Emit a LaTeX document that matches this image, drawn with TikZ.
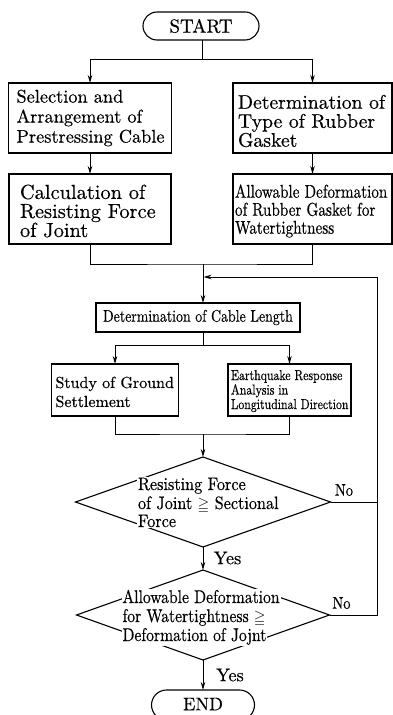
\documentclass[tikz,border=0pt]{standalone}
\usepackage{amssymb}
\usepackage{fontspec}
\usetikzlibrary{shapes.geometric,arrows.meta}
\setmainfont{lmroman10-regular.otf}[FakeBold=0.4]
\newfontfamily\cndA{lmroman10-regular.otf}[FakeStretch=0.82,FakeBold=0.4]
\newfontfamily\cndB{lmroman10-regular.otf}[FakeStretch=0.85,FakeBold=0.4]
\newfontfamily\cndC{lmroman10-regular.otf}[FakeStretch=0.9,FakeBold=0.4]
\newcommand\smgeq{{\fontsize{15}{15}\selectfont$\geqq$}}
\begin{document}
\begin{tikzpicture}[x=1pt,y=-1pt,
  every node/.style={inner sep=0pt, outer sep=0pt},
  line/.style={line width=1pt},
  arr/.style={line width=1pt,-{Stealth[length=8pt,width=4.5pt]}},
  box/.style={draw, line width=1.1pt},
  term/.style={draw, line width=1.1pt},
  dia/.style={draw, line width=1.1pt, diamond, inner sep=0pt},
  txt/.style={align=left, anchor=west},
  lbl/.style={anchor=base west, fill=white, inner xsep=1pt, inner ysep=1pt},
  dtA/.style={font=\cndC\fontsize{18}{18}\selectfont},
  dtB/.style={font=\cndB\fontsize{18.4}{18}\selectfont},
]
\fill[white] (0,0) rectangle (393,715);
\useasboundingbox (0,0) rectangle (393,715);

% terminals
\node[term, rounded corners=14pt, minimum width=116pt, minimum height=28pt, font=\fontsize{19}{20}\selectfont] (start) at (201,26) {START};
\node[term, rounded corners=15pt, minimum width=103pt, minimum height=30pt, font=\fontsize{18.2}{20}\selectfont] (end) at (203,705) {\raisebox{2pt}{END}};

% top boxes
\node[box, minimum width=163pt, minimum height=70pt] (b1) at (90,118) {};
\node[txt, font=\fontsize{18.3}{20}\selectfont] at ([xshift=8pt]b1.west) {Selection and\\Arrangement of\\Prestressing Cable};
\node[box, minimum width=162pt, minimum height=70pt] (b2) at (90,209) {};
\node[txt, font=\fontsize{20.4}{19}\selectfont] at ([xshift=11pt,yshift=-2pt]b2.west) {Calculation of\\Resisting Force\\of Joint};
\node[box, minimum width=159pt, minimum height=70pt] (b3) at (312.5,118) {};
\node[txt, font=\fontsize{19.7}{19}\selectfont] at ([xshift=5pt,yshift=-3pt]b3.west) {Determination of\\Type of Rubber\\Gasket};
\node[box, minimum width=159pt, minimum height=70pt] (b4) at (312.5,209) {};
\node[txt, font=\cndA\fontsize{18.5}{18}\selectfont] at ([xshift=2pt,yshift=-2pt]b4.west) {Allowable Deformation\\of Rubber Gasket for\\Watertightness};

% cable length
\node[box, minimum width=204pt, minimum height=29pt, font=\cndA\fontsize{16.9}{18}\selectfont] (cl) at (198,317.5) {Determination of Cable Length};

% study boxes
\node[box, minimum width=127pt, minimum height=52pt] (sg) at (115,390) {};
\node[txt, font=\fontsize{16}{19}\selectfont] at ([xshift=4pt,yshift=-2pt]sg.west) {Study of Ground\\Settlement};
\node[box, minimum width=123pt, minimum height=52pt] (eq) at (289.5,390) {};
\node[txt, font=\cndA\fontsize{14.4}{14.5}\selectfont] at ([xshift=3pt,yshift=-1pt]eq.west) {Earthquake Response\\Analysis in\\Longitudinal Direction};

% diamonds
\node[dia, minimum width=255pt, minimum height=90pt] (d1) at (203,502) {};
\node[lbl, dtA] at (137,490) {Resisting Force};
\node[lbl, dtA] at (137,509) {of Joint \smgeq{} Sectional};
\node[lbl, dtA] at (137,527) {Force};
\node[dia, minimum width=253pt, minimum height=90pt] (d2) at (203,615) {};
\node[lbl, dtB] at (121.5,603) {Allowable Deformation};
\node[lbl, dtB] at (121.5,622) {for Watertightness \smgeq};
\node[lbl, dtB] at (121.5,641) {Deformation of Jojnt};

% labels
\node[font=\fontsize{18.3}{20}\selectfont] (y1) at (227.5,558) {Yes};
\node[font=\fontsize{18.3}{20}\selectfont] (y2) at (230,675) {Yes};
\node[font=\cndB\fontsize{17}{18}\selectfont] (n1) at (344,490) {No};
\node[font=\cndB\fontsize{17}{18}\selectfont] (n2) at (341.5,603) {No};

% connectors
\coordinate (j1) at (202,59);
\draw[line] (start.south -| j1) -- (j1);
\draw[arr] (j1) -| (b1.north);
\draw[arr] (j1) -| (b3.north);
\draw[arr] (b1) -- (b2);
\draw[arr] (b3) -- (b4);
\coordinate (j2) at (203,264);
\draw[line] (b2.south) |- (j2) -| (b4.south);
\draw[arr] (j2) -- (j2 |- cl.north);
\coordinate (fbR) at (377,277);
\coordinate (fbL) at (203.5,277);
\draw[line] (d1.east) -- (d1.east -| fbR);
\draw[arr] (d2.east) -| (fbR) -- (fbL);
\coordinate (j3) at (203,345);
\draw[line] (j3 |- cl.south) -- (j3);
\draw[arr] (j3) -| (sg.north);
\draw[arr] (j3) -| (eq.north);
\coordinate (j4) at (203,434);
\draw[line] (sg.south) |- (j4) -| (eq.south);
\draw[arr] (j4) -- (d1.north);
\draw[arr] (d1.south) -- (d2.north);
\draw[arr] (d2.south) -- (end.north);
\end{tikzpicture}
\end{document}
